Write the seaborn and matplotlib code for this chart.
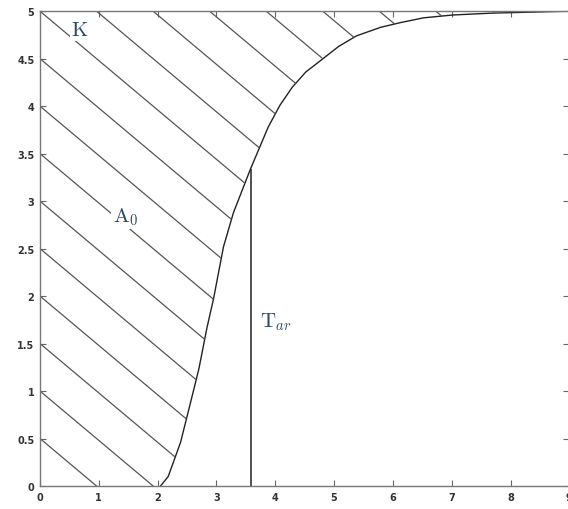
import numpy as np
import matplotlib.pyplot as plt
import seaborn as sns

sns.set_style("ticks")
plt.rcParams['mathtext.fontset'] = 'cm'

# values
curve_x = [2.05, 2.18, 2.39, 2.56, 2.70, 2.84, 2.95, 3.12, 3.29, 3.58, 3.88, 4.08, 4.29, 4.52, 4.77, 5.08,
           5.38, 5.79, 6.13, 6.52, 7.02, 7.7, 8.35, 9.0]
curve_y = [0.0, 0.10, 0.46, 0.88, 1.23, 1.67, 1.97, 2.52, 2.88, 3.34, 3.78, 4.01, 4.20, 4.36, 4.48, 4.63,
           4.74, 4.83, 4.88, 4.93, 4.96, 4.98, 4.99, 5.0]
t_ar = 3.58
K = 5.0
x_ticks = [0, 1, 2, 3, 4, 5, 6, 7, 8, 9]
y_ticks = [0, 0.5, 1, 1.5, 2, 2.5, 3, 3.5, 4, 4.5, 5]
y_tick_labels = ['0', '0.5', '1', '1.5', '2', '2.5', '3', '3.5', '4', '4.5', '5']

fig = plt.figure(figsize=(5.68, 5.10), dpi=100)
ax = fig.add_axes([0.0704, 0.0451, 0.932, 0.931])

sns.lineplot(x=curve_x, y=curve_y, ax=ax, color='#222222', lw=1.0, sort=False, estimator=None)

# hatched area A0 between the curve and K
region = ax.fill_betweenx(curve_y, 0, curve_x, facecolor='none', edgecolor='none')
clip = region.get_paths()[0]
slope = 0.52
for c in np.arange(0.5, K + slope * 9 + 0.01, 0.5):
    xs = np.array([0, 9])
    ln, = ax.plot(xs, c - slope * xs, color='#555555', lw=0.9)
    ln.set_clip_path(clip, ax.transData)

ax.vlines(t_ar, 0, np.interp(t_ar, curve_x, curve_y), color='#222222', lw=1.1)

txt_kw = dict(color='#2b4a6b', fontsize=15, va='center', ha='center')
ax.text(0.68, 4.81, r'$\mathrm{K}$', bbox=dict(facecolor='white', edgecolor='none', pad=1), **txt_kw)
ax.text(1.45, 2.84, r'$\mathrm{A}_0$', bbox=dict(facecolor='white', edgecolor='none', pad=1), **txt_kw)
ax.text(4.02, 1.73, r'$\mathrm{T}_{ar}$', **txt_kw)

ax.set_xlim(0, 9)
ax.set_ylim(0, 5)
ax.set_xticks(x_ticks)
ax.set_yticks(y_ticks)
ax.set_yticklabels(y_tick_labels)
ax.tick_params(direction='in', top=True, right=True, length=4, width=0.8, color='#666666',
               labelsize=7, labelcolor='#333333', pad=4)
for lab in ax.get_xticklabels() + ax.get_yticklabels():
    lab.set_fontweight('bold')
for s in ax.spines.values():
    s.set_color('#777777')
    s.set_linewidth(1.0)

fig.savefig('out.png', dpi=100)
